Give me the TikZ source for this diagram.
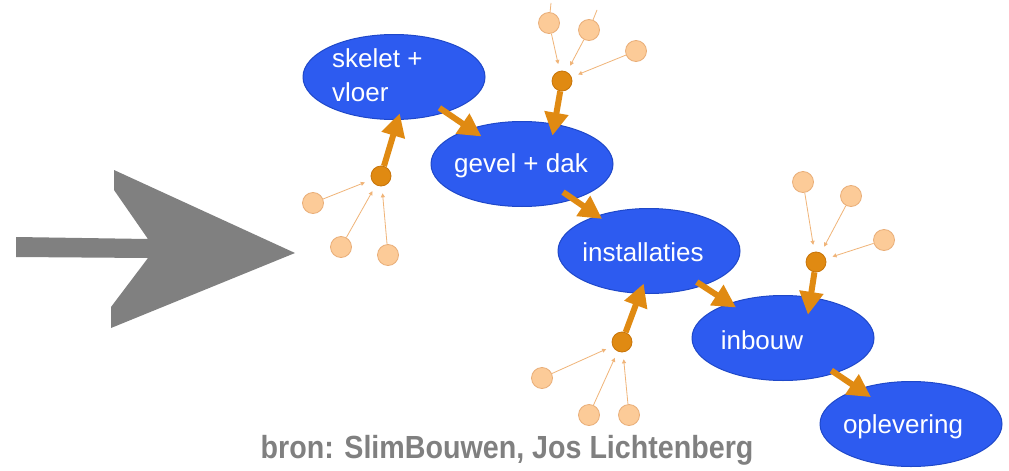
\documentclass[tikz,border=0pt]{standalone}
\usepackage{fontspec}
\setmainfont{Liberation Sans}
\usetikzlibrary{arrows.meta,shapes.geometric}
\definecolor{blu}{HTML}{2D5BF0}
\definecolor{blub}{HTML}{1F48C9}
\definecolor{org}{HTML}{E08A12}
\definecolor{orgd}{HTML}{C87408}
\definecolor{pch}{HTML}{FCCB98}
\definecolor{pchb}{HTML}{E9AE78}
\definecolor{thinc}{HTML}{F0B478}
\definecolor{gry}{HTML}{808080}
\begin{document}
\begin{tikzpicture}[x=1pt,y=-1pt,
  phase/.style={ellipse, fill=blu, draw=blub, line width=1pt, minimum width=182pt, minimum height=85pt, inner sep=0pt},
  lbl/.style={text=white, font=\fontsize{26}{34}\selectfont, align=left, inner sep=0pt},
  hub/.style={circle, fill=org, draw=orgd, line width=0.8pt, minimum size=20pt, inner sep=0pt},
  src/.style={circle, fill=pch, draw=pchb, line width=0.8pt, minimum size=21pt, inner sep=0pt},
  flow/.style={draw=org, line width=6pt, -{Triangle[length=23pt,width=23pt]}},
  feed/.style={draw=thinc, line width=0.8pt, -{Triangle[length=4pt,width=4pt]}, shorten >=7pt},
  tail/.style={draw=thinc, line width=0.8pt},
]
\useasboundingbox (0,0) rectangle (1009,471);
\fill[white] (0,0) rectangle (1009,471);

% big gray arrow
\fill[gry] (16,237) -- (148,239) -- (114,190) -- (114,170) -- (295,253)
  -- (111,328) -- (111,307) -- (148,258) -- (16,257) -- cycle;

% phases
\node[phase] (s1) at (394,77) {};
\node[phase] (s2) at (522,164) {};
\node[phase] (s3) at (649,251) {};
\node[phase] (s4) at (783,338) {};
\node[phase] (s5) at (911,424) {};

\node[lbl, anchor=west] (t1) at (332,75) {skelet +\\vloer};
\node[lbl] (t2) at (521,166) {gevel + dak};
\node[lbl] (t3) at (643,252) {installaties};
\node[lbl] (t4) at (762,340) {inbouw};
\node[lbl] (t5) at (903,427) {oplevering};

% hubs
\node[hub] (h1) at (381,176) {};
\node[hub] (h2) at (562,81) {};
\node[hub] (h3) at (622,342) {};
\node[hub] (h4) at (816,262) {};

% sources
\node[src] (a1) at (313,203) {};
\node[src] (a2) at (341,247) {};
\node[src] (a3) at (388,255) {};
\coordinate (b1t) at (551,3);
\coordinate (b2t) at (597,10);
\node[src] (b1) at (549,23) {};
\node[src] (b2) at (589,30) {};
\node[src] (b3) at (636,51) {};
\node[src] (c1) at (542,378) {};
\node[src] (c2) at (589,415) {};
\node[src] (c3) at (629,415) {};
\node[src] (d1) at (803,182) {};
\node[src] (d2) at (851,196) {};
\node[src] (d3) at (884,240) {};

% feed lines
\draw[tail] (b1t) -- (b1);
\draw[tail] (b2t) -- (b2);
\foreach \s in {a1,a2,a3} \draw[feed] (\s) -- (h1);
\foreach \s in {b1,b2,b3} \draw[feed] (\s) -- (h2);
\foreach \s in {c1,c2,c3} \draw[feed] (\s) -- (h3);
\foreach \s in {d1,d2,d3} \draw[feed] (\s) -- (h4);

% hub arrows
\draw[flow, shorten >=-7pt] (h1) -- (s1.-85);
\draw[flow, shorten >=-12pt] (h2) -- (s2.51);
\draw[flow, shorten >=-11pt] (h3) -- (s3.-102);
\draw[flow, shorten >=-18pt] (h4) -- (s4.56);

% sequence arrows
\draw[flow, shorten <=-8pt, shorten >=-14pt] (s1) -- (s2);
\draw[flow, shorten <=-13pt, shorten >=-6pt] (s2) -- (s3);
\draw[flow, shorten <=-7pt, shorten >=-8pt] (s3) -- (s4);
\draw[flow, shorten <=-5pt, shorten >=-15pt] (s4) -- (s5);

% caption
\node[text=gry, font=\bfseries\fontsize{32}{34}\selectfont, inner sep=0pt] (cap) at (507,450) {\scalebox{0.895}[1]{bron: SlimBouwen, Jos Lichtenberg}};
\end{tikzpicture}
\end{document}
